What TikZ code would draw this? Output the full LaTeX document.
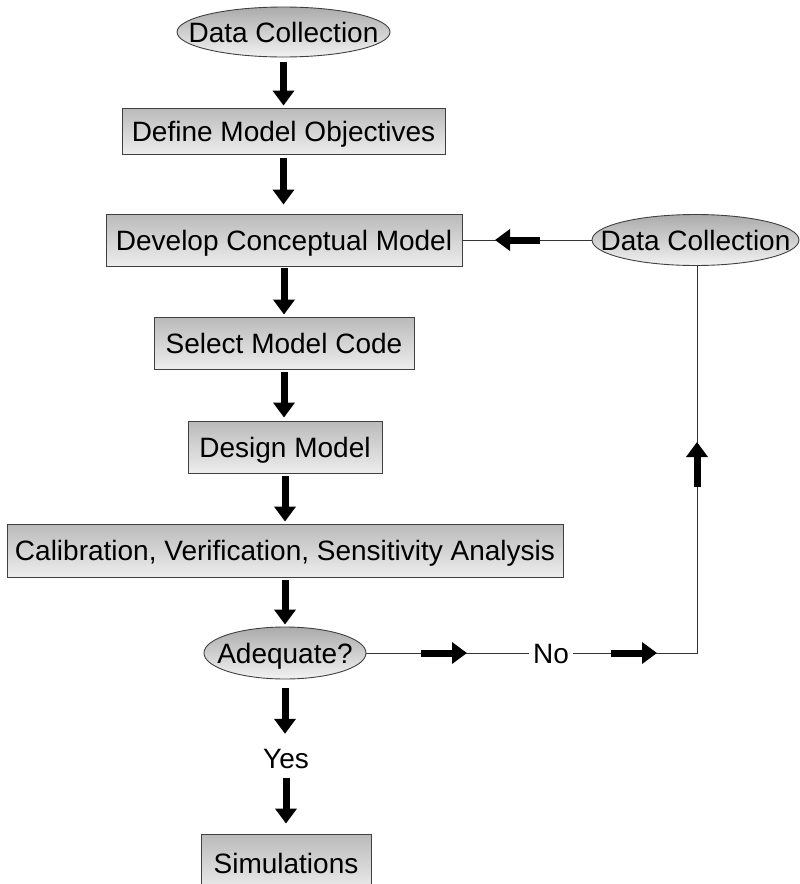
\documentclass[tikz,border=0pt]{standalone}
\usepackage{fontspec}
\setmainfont{Liberation Sans}
\usetikzlibrary{shapes.geometric,arrows.meta}

\tikzset{
  lbl/.style={font=\fontsize{28}{31}\selectfont, text height=20pt, text depth=0pt},
  stepbox/.style={lbl, rectangle, draw=black!75, line width=0.9pt,
    top color=black!27, bottom color=black!7, inner sep=0pt, align=center},
  oval/.style={lbl, ellipse, draw=black!75, line width=0.9pt,
    top color=black!33, bottom color=black!5, inner sep=0pt},
  wire/.style={draw=black!80, line width=0.9pt},
  bigarrow/.style={line width=7pt, -{Triangle[width=21pt,length=15pt]}},
}

\begin{document}
\begin{tikzpicture}[x=1pt,y=-1pt]
  \useasboundingbox (0,0) rectangle (800,884);

  % main column
  \node[oval, minimum width=213pt, minimum height=50pt] (dc1) at (283.5,32) {\makebox[0pt]{Data Collection}};
  \node[stepbox, minimum width=323pt, minimum height=46pt] (dmo) at (283.5,131) {Define Model Objectives};
  \node[stepbox, minimum width=356pt, minimum height=52pt] (dcm) at (284,240) {Develop Conceptual Model};
  \node[stepbox, minimum width=260pt, minimum height=52pt] (smc) at (284,343) {Select Model Code};
  \node[stepbox, minimum width=194pt, minimum height=52pt] (dm) at (285,447) {Design Model};
  \node[stepbox, minimum width=556pt, minimum height=53pt] (cal) at (285,550.5) {Calibration, Verification, Sensitivity Analysis};
  \node[oval, minimum width=162pt, minimum height=52pt] (adq) at (285,653) {\makebox[0pt]{Adequate?}};
  \node[lbl, inner sep=0pt] (yes) at (286,758) {Yes};
  \node[stepbox, minimum width=170pt, minimum height=58pt] (sim) at (286,863) {Simulations};

  % feedback branch
  \node[oval, minimum width=207pt, minimum height=51pt] (dc2) at (695.5,240) {\makebox[0pt]{Data Collection}};
  \node[lbl, inner xsep=4pt, inner ysep=0pt] (no) at (551,653) {No};
  \coordinate (corner) at (697,653);

  % downward flow
  \draw[bigarrow, shorten <=5pt, shorten >=2pt] (dc1.south) -- (dc1.south |- dmo.north);
  \draw[bigarrow, shorten <=4pt, shorten >=9pt] (dmo.south) -- (dmo.south |- dcm.north);
  \draw[bigarrow, shorten <=2pt, shorten >=2pt] (dcm.south) -- (dcm.south |- smc.north);
  \draw[bigarrow, shorten <=3pt, shorten >=3pt] (smc.south) -- (smc.south |- dm.north);
  \draw[bigarrow, shorten <=3pt, shorten >=2pt] (dm.south) -- (dm.south |- cal.north);
  \draw[bigarrow, shorten <=3pt, shorten >=2pt] (cal.south) -- (cal.south |- adq.north);
  \draw[bigarrow, shorten <=9pt, shorten >=14pt] (adq.south) -- (adq.south |- yes.north);
  \draw[bigarrow, shorten <=10pt, shorten >=10pt] (yes.south) -- (yes.south |- sim.north);

  % loop back through data collection
  \draw[wire] (adq.east) -- (no.west);
  \draw[wire] (no.east) -- (corner) -- (corner |- dc2.south);
  \draw[wire] (dc2.west) -- (dcm.east);

  % direction markers on the loop
  \coordinate (m1a) at (421,653);  \coordinate (m1b) at (467,653);
  \coordinate (m2a) at (611,653);  \coordinate (m2b) at (657,653);
  \coordinate (m3a) at (697,487);  \coordinate (m3b) at (697,442);
  \coordinate (m4a) at (540,240);  \coordinate (m4b) at (495,240);
  \draw[bigarrow] (m1a) -- (m1b);
  \draw[bigarrow] (m2a) -- (m2b);
  \draw[bigarrow] (m3a) -- (m3b);
  \draw[bigarrow] (m4a) -- (m4b);
\end{tikzpicture}
\end{document}
